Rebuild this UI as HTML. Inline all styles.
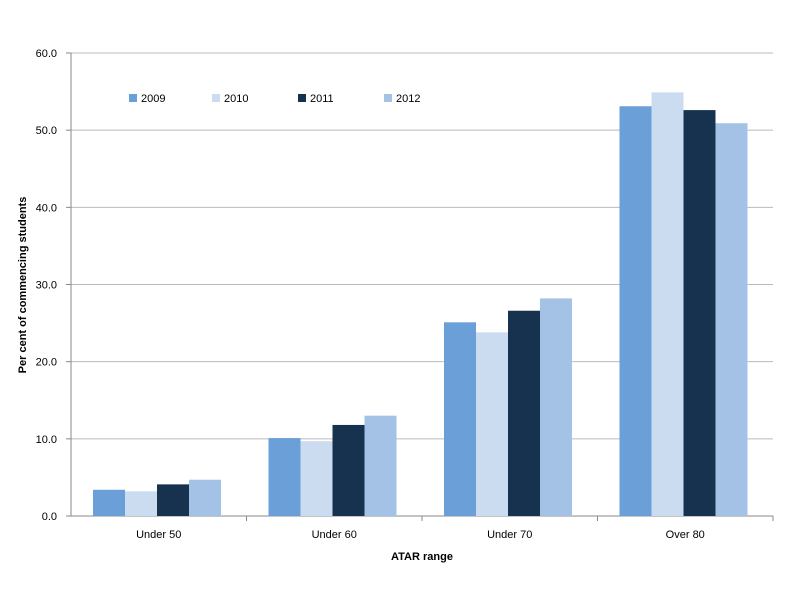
<!DOCTYPE html>
<html><head><meta charset="utf-8"><style>
body{margin:0;background:#fff;}
svg text{font-family:"Liberation Sans",sans-serif;fill:#000;}
</style></head><body>
<svg id="chart" width="802" height="610" xmlns="http://www.w3.org/2000/svg">
<g id="grid"></g><g id="bars"></g><g id="labels"></g><g id="legend"></g>
<text transform="translate(26,285) rotate(-90)" text-anchor="middle" font-size="11" font-weight="bold">Per cent of commencing students</text>
<text x="422" y="560" text-anchor="middle" font-size="11" font-weight="bold">ATAR range</text>
</svg>
<script>
const categories=["Under 50","Under 60","Under 70","Over 80"];
const seriesNames=["2009","2010","2011","2012"];
const s2009=[3.4,10.1,25.1,53.1];
const s2010=[3.2,9.7,23.8,54.9];
const s2011=[4.1,11.8,26.6,52.6];
const s2012=[4.7,13.0,28.2,50.9];
const yTicks=["0.0","10.0","20.0","30.0","40.0","50.0","60.0"];
const colors=["#6a9fd8","#ccdcf0","#17324f","#a3c2e6"];
const series=[s2009,s2010,s2011,s2012];
const NS="http://www.w3.org/2000/svg";
const x0=71,x1=773,yTop=53,yBot=516,yMax=60;
const y=v=>yBot-(v/yMax)*(yBot-yTop);
const gw=(x1-x0)/categories.length;
function mk(t,a,p){const e=document.createElementNS(NS,t);for(const k in a)e.setAttribute(k,a[k]);p.appendChild(e);return e;}
const grid=document.getElementById('grid'),bars=document.getElementById('bars'),labels=document.getElementById('labels'),legend=document.getElementById('legend');
yTicks.forEach(t=>{const v=parseFloat(t);
 const l=mk('line',{x1:x0,x2:x1,y1:y(v),y2:y(v),stroke:v===0?'#888':'#bbb','stroke-width':1},grid);
 
 
 const tx=mk('text',{x:x0-14,y:y(v)+4,'text-anchor':'end','font-size':11},labels);tx.textContent=t;
 
 
 const tk=mk('line',{x1:x0-5,x2:x0,y1:y(v),y2:y(v),stroke:'#888'},grid);
 
 
});
mk('line',{x1:x0,x2:x0,y1:yTop,y2:yBot,stroke:'#888'},grid);
categories.forEach((c,i)=>{
 const gx=x0+i*gw;
 const tk=mk('line',{x1:gx+gw,x2:gx+gw,y1:yBot,y2:yBot+5,stroke:'#888'},grid);
 
 
 series.forEach((s,j)=>{
  const r=mk('rect',{x:gx+22+j*32,y:y(s[i]),width:32,height:yBot-y(s[i]),fill:colors[j]},bars);
  
  
 });
 const t=mk('text',{x:gx+gw/2,y:538,'text-anchor':'middle','font-size':11},labels);t.textContent=c;
 
 
});
const lx=[129,212,298,384];
seriesNames.forEach((n,j)=>{
 const g=mk('g',{},legend);
 
 
 mk('rect',{x:lx[j],y:94,width:8,height:8,fill:colors[j]},g);
 const t=mk('text',{x:lx[j]+12,y:102,'font-size':11},g);t.textContent=n;
});
</script>
</body></html>
